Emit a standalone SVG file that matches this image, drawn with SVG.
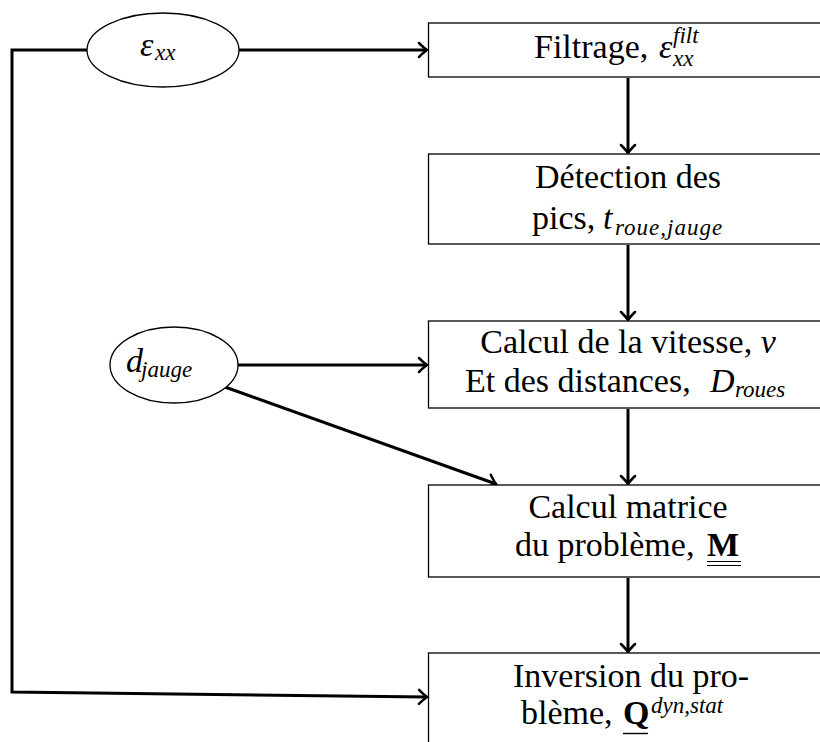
<svg xmlns="http://www.w3.org/2000/svg" width="820" height="742" viewBox="0 0 820 742">
<style>
.box{fill:#fff;stroke:#000;stroke-width:1.3}
.ell{fill:#fff;stroke:#000;stroke-width:1.3}
.con{fill:none;stroke:#000;stroke-width:3;stroke-linejoin:miter}
text{font-family:"Liberation Serif","Times New Roman",serif;font-size:34px;fill:#000}
.m{font-style:italic}
.s{font-style:italic;font-size:23px}
.b{font-weight:bold}
.c{text-anchor:middle}
</style>
<defs>
<marker id="arr" markerUnits="userSpaceOnUse" viewBox="-10 -9 12 18" refX="0" refY="0" markerWidth="12" markerHeight="18" orient="auto">
<path d="M-8,-7 Q-3,-2 0,0 Q-3,2 -8,7" fill="none" stroke="#000" stroke-width="2.5" stroke-linecap="round"/>
</marker>
</defs>
<g id="connectors">
<path class="con" d="M87,50 L12,50 L12,692 L427,697" marker-end="url(#arr)"/>
<path class="con" d="M239,50 L427,50" marker-end="url(#arr)"/>
<path class="con" d="M238,365 L427,365" marker-end="url(#arr)"/>
<path class="con" d="M225,387 L496,484" marker-end="url(#arr)"/>
<path class="con" d="M628,78 L628,153" marker-end="url(#arr)"/>
<path class="con" d="M628,245 L628,320" marker-end="url(#arr)"/>
<path class="con" d="M628,409 L628,484" marker-end="url(#arr)"/>
<path class="con" d="M628,578 L628,652" marker-end="url(#arr)"/>
</g>
<g id="eps">
<ellipse class="ell" cx="163" cy="50" rx="76" ry="37"/>
<text x="140" y="56" class="m">ε</text>
<text x="155" y="60" class="s">xx</text>
</g>
<g id="djauge">
<ellipse class="ell" cx="174" cy="365" rx="64" ry="38"/>
<text x="126" y="372" class="m">d</text>
<text x="141" y="377" class="s">jauge</text>
</g>
<g id="filtrage">
<rect class="box" x="428.5" y="23" width="400" height="54"/>
<text x="534" y="58">Filtrage,</text>
<text x="659" y="58" class="m">ε</text>
<text x="673" y="43" class="s">filt</text>
<text x="673" y="66" class="s">xx</text>
</g>
<g id="detection">
<rect class="box" x="428.5" y="154" width="400" height="90"/>
<text x="628" y="188" class="c">Détection des</text>
<text x="532" y="229">pics,</text>
<text x="603" y="229" class="m">t</text>
<text x="615" y="235" class="s" letter-spacing="1">roue,jauge</text>
</g>
<g id="vitesse">
<rect class="box" x="428.5" y="321" width="400" height="87"/>
<text x="628" y="353" class="c">Calcul de la vitesse, <tspan class="m">v</tspan></text>
<text x="465" y="392">Et des distances,</text>
<text x="710" y="392" class="m">D</text>
<text x="735" y="397" class="s">roues</text>
</g>
<g id="matrice">
<rect class="box" x="428.5" y="485" width="400" height="92"/>
<text x="628" y="518" class="c">Calcul matrice</text>
<text x="515" y="556">du problème,</text>
<text x="707" y="556" class="b">M</text>
<line x1="707" y1="561.5" x2="741" y2="561.5" stroke="#000" stroke-width="1.2"/>
<line x1="707" y1="565.5" x2="741" y2="565.5" stroke="#000" stroke-width="1.2"/>
</g>
<g id="inversion">
<rect class="box" x="428.5" y="653" width="400" height="100"/>
<text x="631" y="687" class="c">Inversion du pro-</text>
<text x="521" y="724">blème,</text>
<text x="623" y="724" class="b">Q</text>
<line x1="623" y1="733.5" x2="648" y2="733.5" stroke="#000" stroke-width="1.4"/>
<text x="651" y="713" class="s">dyn,stat</text>
</g>
</svg>
